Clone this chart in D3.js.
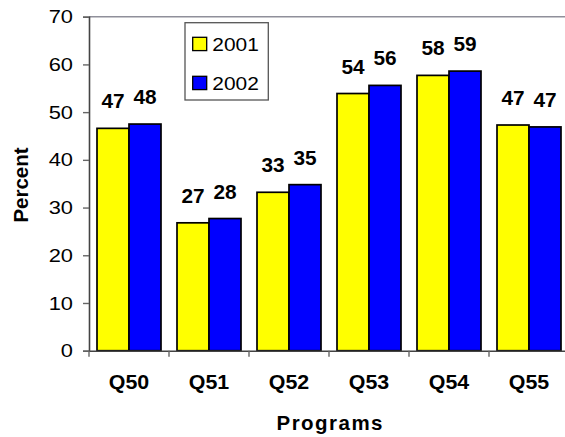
<!DOCTYPE html>
<html><head><meta charset="utf-8">
<script src="https://cdn.jsdelivr.net/npm/d3@7"></script>
<style>html,body{margin:0;padding:0;background:#fff;}svg{display:block;font-family:"Liberation Sans",Arial,sans-serif;}</style>
</head><body>
<svg id="c" width="565" height="437"></svg>
<script>
const categories = ["Q50","Q51","Q52","Q53","Q54","Q55"];
const seriesNames = ["2001","2002"];
const values2001 = [46.6, 26.8, 33.2, 53.9, 57.7, 47.3];
const values2002 = [47.5, 27.7, 34.8, 55.6, 58.6, 46.9];
const yTicks = [0,10,20,30,40,50,60,70];
const colors = ["#FFFF00","#0000FF"];

(function(){
const svg = d3.select("#c");
const pLeft = 89, pRight = 569, pTop = 16.7, pBottom = 350.7;
const x = d3.scaleBand().domain(categories).range([pLeft,pRight]).paddingInner(0.2).paddingOuter(0.1);
const xs = d3.scaleBand().domain(seriesNames).range([0,x.bandwidth()]);
const y = d3.scaleLinear().domain([0,70]).range([pBottom,pTop]);
const series = [values2001, values2002];

// top border
svg.append("line").attr("x1",pLeft).attr("x2",565).attr("y1",y(70)).attr("y2",y(70))
  .attr("stroke","#8f8f9a").attr("stroke-width",1.5);

// bars
series.forEach((vals,si)=>{
  svg.append("g").selectAll("rect").data(categories).join("rect")
    .attr("x",c=>x(c)+xs(seriesNames[si]))
    .attr("y",(c,i)=>y(vals[i]))
    .attr("width",xs.bandwidth())
    .attr("height",(c,i)=>y(0)-y(vals[i]))
    .attr("fill",colors[si]).attr("stroke","#000").attr("stroke-width",1.7);
});

function stretchedText(g, tx, ty, str, opts){
  const t = g.append("g").attr("transform",`translate(${tx},${ty}) scale(${opts.sx||1},1)`)
    .append("text").text(str)
    .attr("font-size",opts.size).attr("font-weight",opts.weight||"normal")
    .attr("text-anchor",opts.anchor||"middle").attr("fill","#000");
  if(opts.dy) t.attr("dy",opts.dy);
  return t;
}

// data labels
const lg = svg.append("g");
series.forEach((vals,si)=>{
  categories.forEach((c,i)=>{
    const cx = x(c)+xs(seriesNames[si])+xs.bandwidth()/2;
    stretchedText(lg, cx, y(vals[i])-20, d3.format(".0f")(vals[i]), {size:20, weight:"bold", sx:1.04});
  });
});

// y axis
const yAxis = svg.append("g").attr("transform",`translate(${pLeft},0)`)
  .call(d3.axisLeft(y).tickValues(yTicks).tickSize(6).tickFormat(""));
yAxis.select(".domain").attr("stroke","#444").attr("stroke-width",1.6);
yAxis.selectAll(".tick line").attr("stroke","#666").attr("stroke-width",1.4);
const ytl = svg.append("g");
yTicks.forEach(v=>{
  stretchedText(ytl, 73, y(v), String(v), {size:19, sx:1.15, anchor:"end", dy:"0.35em"});
});

// x axis
const xAxis = svg.append("g").attr("transform",`translate(0,${pBottom})`)
  .call(d3.axisBottom(x).tickSize(0).tickFormat(""));
xAxis.select(".domain").attr("stroke","#444").attr("stroke-width",1.6);
const bounds = categories.map(c=>x(c)-x.step()*x.paddingInner()/2);
svg.append("g").selectAll("line").data(bounds).join("line")
  .attr("x1",d=>d).attr("x2",d=>d).attr("y1",pBottom).attr("y2",pBottom+6)
  .attr("stroke","#666").attr("stroke-width",1.4);
const xtl = svg.append("g");
categories.forEach(c=>{
  stretchedText(xtl, x(c)+x.bandwidth()/2, 389, c, {size:20, weight:"bold", sx:1.07});
});

// axis titles
svg.append("text").text("Programs").attr("x",329.5).attr("y",429.5)
  .attr("text-anchor","middle").attr("font-size",20.5).attr("font-weight","bold")
  .attr("textLength",106).attr("lengthAdjust","spacing");
svg.append("text").text("Percent").attr("transform","translate(27.5,185) rotate(-90)")
  .attr("text-anchor","middle").attr("font-size",20.5).attr("font-weight","bold");

// legend
const leg = svg.append("g");
leg.append("rect").attr("x",185).attr("y",22.7).attr("width",83.3).attr("height",77.3)
  .attr("fill","#fff").attr("stroke","#555").attr("stroke-width",1.3);
const legY = [44, 83];
seriesNames.forEach((s,i)=>{
  leg.append("rect").attr("x",192.7).attr("y",legY[i]-6.7).attr("width",14).attr("height",13.3)
    .attr("fill",colors[i]).attr("stroke","#000").attr("stroke-width",1.3);
  stretchedText(leg, 212.3, legY[i], s, {size:19, sx:1.1, anchor:"start", dy:"0.35em"});
});
})();
</script>
</body></html>
